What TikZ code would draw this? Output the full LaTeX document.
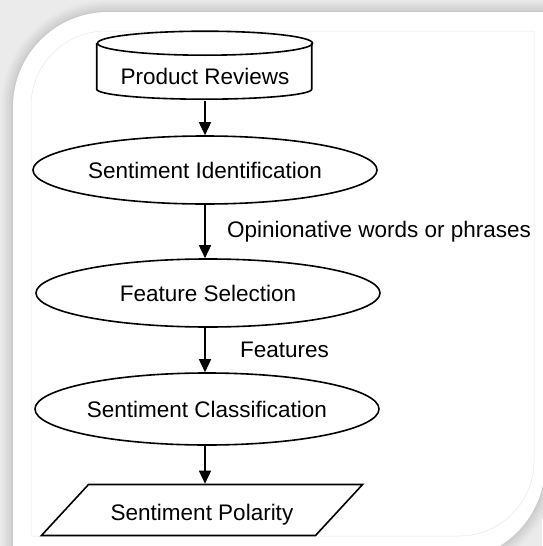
\documentclass[tikz,border=0pt]{standalone}
\usepackage{fontspec}
\setmainfont{Liberation Sans}
\usetikzlibrary{positioning,shapes.geometric,arrows.meta}

\begin{document}
\begin{tikzpicture}[x=1pt, y=-1pt, >={Triangle[length=13pt,width=12pt]},
    line width=1.6pt, font=\fontsize{22.5}{27}\selectfont,
    stage/.style={ellipse, draw, minimum width=344pt, minimum height=68pt, inner sep=0pt},
    flow/.style={->, line width=1.6pt}]
    \useasboundingbox (0,0) rectangle (542,546);

    % frame with soft shadow round the white sheet
    \fill[black!8] (0,0) rectangle (542,546);
    \foreach \d/\k [evaluate=\d as \r using 95+\d] in {12/9,10/11,8/13,6/15,4/17,2/19,1/21}
        \fill[black!\k] (13-\d,560+\d) -- (13-\d,107) arc[start angle=180, end angle=270, radius=\r]
            -- (545+\d,12-\d) -- (545+\d,465) arc[start angle=0, end angle=90, radius=\r] -- cycle;
    \fill[white] (13,560) -- (13,107) arc[start angle=180, end angle=270, radius=95]
        -- (545,12) -- (545,465) arc[start angle=0, end angle=90, radius=95] -- cycle;
    \draw[black!9, line width=0.5pt] (31,536) -- (31,106) arc[start angle=180, end angle=270, radius=75]
        -- (534,31) -- (534,461) arc[start angle=0, end angle=90, radius=75] -- cycle;

    % stages
    \node[minimum width=215pt, minimum height=68pt, inner sep=0pt, text height=38pt] (reviews) at (205,66) {Product Reviews};
    \draw (reviews.north) ++(0,12) ellipse[x radius=107.5, y radius=12];
    \draw (reviews.north west) ++(0,12) -- ++(0,46) arc[start angle=180, end angle=0, x radius=107.5, y radius=10] -- ++(0,-46);
    \node[stage] (ident) at (205,170) {Sentiment Identification};
    \node[stage] (feat) at (208,293) {Feature Selection};
    \node[stage, minimum height=72pt] (classif) at (207,409) {Sentiment Classification};
    \node[trapezium, draw, trapezium left angle=39, trapezium right angle=141, trapezium stretches=true,
          minimum width=322pt, minimum height=51pt, inner sep=0pt, text height=26pt] (polarity) at (202,510) {Sentiment Polarity};

    % arrows
    \draw[flow] (reviews.south) -- (reviews.south |- ident.north);
    \draw[flow] (ident.south) -- node[right=18pt] {Opinionative words or phrases} (ident.south |- feat.north);
    \draw[flow] (ident.south |- feat.south) -- node[right=31pt] {Features} (ident.south |- classif.north);
    \draw[flow] (ident.south |- classif.south) -- (ident.south |- polarity.north);
\end{tikzpicture}
\end{document}
